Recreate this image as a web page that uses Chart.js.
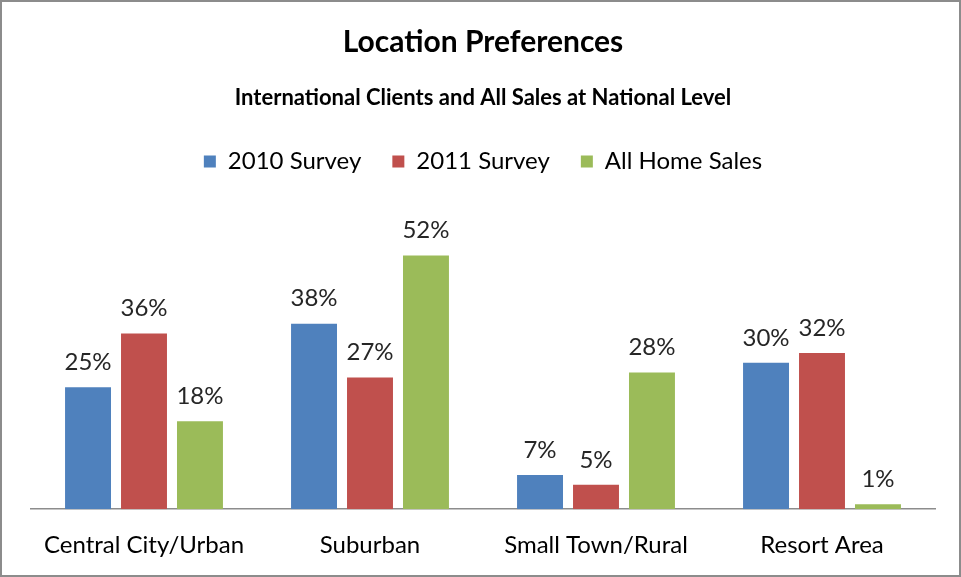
<!DOCTYPE html>
<html>
<head>
<meta charset="utf-8">
<script src="https://cdn.jsdelivr.net/npm/chart.js@4/dist/chart.umd.min.js"></script>
<style>
  html, body { margin: 0; padding: 0; background: #fff; }
  .frame {
    position: absolute; left: 0; top: 0;
    width: 957px; height: 573px;
    border: 2px solid #8c8c8c;
    background: #fff;
  }
  canvas { display: block; }
</style>
</head>
<body>
<div class="frame">
  <canvas id="chart"></canvas>
</div>
<script>
const categories = ["Central City/Urban", "Suburban", "Small Town/Rural", "Resort Area"];
const survey2010 = [25, 38, 7, 30];
const survey2011 = [36, 27, 5, 32];
const allHomeSales = [18, 52, 28, 1];
const seriesNames = ["2010 Survey", "2011 Survey", "All Home Sales"];
const seriesColors = ["#4F81BD", "#C0504D", "#9BBB59"];

const FONT = "Lato, 'Open Sans', sans-serif";

// draws the % value above every bar
const barLabels = {
  id: "barLabels",
  afterDatasetsDraw(chart) {
    const ctx = chart.ctx;
    ctx.save();
    ctx.font = "24px " + FONT;
    ctx.fillStyle = "#262626";
    ctx.textAlign = "center";
    ctx.textBaseline = "middle";
    chart.data.datasets.forEach((ds, i) => {
      const meta = chart.getDatasetMeta(i);
      meta.data.forEach((bar, j) => {
        ctx.fillText(ds.data[j] + "%", bar.x, bar.y - 25);
      });
    });
    ctx.restore();
  }
};

// extra space under the legend before the bars start
const legendGap = {
  id: "legendGap",
  beforeInit(chart) {
    const fit = chart.legend.fit;
    chart.legend.fit = function () {
      fit.call(this);
      this.height += 33;
    };
  }
};

const ctx = document.getElementById("chart").getContext("2d");
new Chart(ctx, {
  type: "bar",
  data: {
    labels: categories,
    datasets: [survey2010, survey2011, allHomeSales].map((d, i) => ({
      label: seriesNames[i],
      data: d,
      backgroundColor: seriesColors[i],
      borderWidth: 0,
      categoryPercentage: 0.743,
      barPercentage: 0.821
    }))
  },
  options: {
    responsive: true,
    maintainAspectRatio: false,
    animation: false,
    layout: { padding: { left: 29, right: 24, top: 0, bottom: -7 } },
    plugins: {
      title: {
        display: true,
        text: "Location Preferences",
        color: "#000",
        font: { family: FONT, size: 30, weight: "bold" },
        padding: { top: 22, bottom: 0 }
      },
      subtitle: {
        display: true,
        text: "International Clients and All Sales at National Level",
        color: "#000",
        font: { family: FONT, size: 22, weight: "bold" },
        padding: { top: 25, bottom: 7 }
      },
      legend: {
        position: "top",
        labels: {
          color: "#000",
          font: { family: FONT, size: 24 },
          boxWidth: 12,
          boxHeight: 12,
          padding: 31
        }
      },
      tooltip: { enabled: false }
    },
    scales: {
      x: {
        grid: { display: false, drawTicks: false },
        border: { display: true, color: "#8c8c8c", width: 1.5 },
        ticks: {
          color: "#000",
          font: { family: FONT, size: 24 },
          padding: 22
        }
      },
      y: {
        display: false,
        min: 0,
        max: 60
      }
    }
  },
  plugins: [barLabels, legendGap]
});
</script>
</body>
</html>
